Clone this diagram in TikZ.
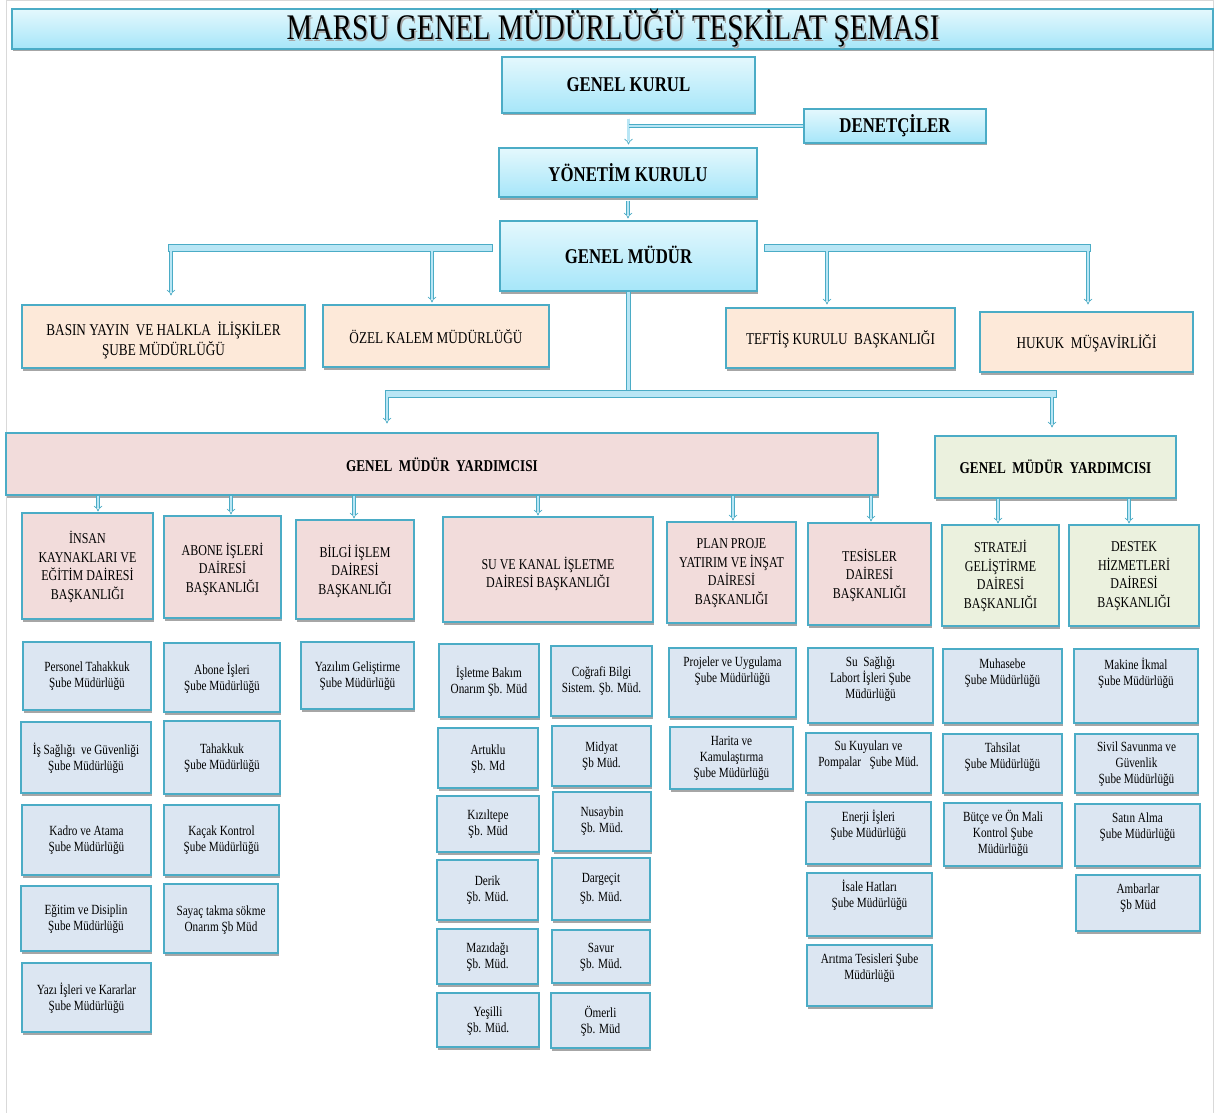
\documentclass[tikz,border=0pt]{standalone}
\usepackage{fontspec}
\newfontfamily\cf{Liberation Serif}[FakeStretch=0.8]
\usetikzlibrary{shadows,arrows.meta}
\definecolor{bord}{HTML}{4BACC6}
\definecolor{cyTop}{HTML}{E4F8FD}
\definecolor{cyBot}{HTML}{A6E6F9}
\definecolor{peach}{HTML}{FDE9D9}
\definecolor{pinkb}{HTML}{F2DCDB}
\definecolor{grn}{HTML}{EBF1DE}
\definecolor{lblue}{HTML}{DCE6F2}
\definecolor{connin}{HTML}{B9E6F5}
\tikzset{
 base/.style={draw=bord, line width=1.1pt, inner sep=0pt, drop shadow={shadow xshift=1pt, shadow yshift=-2.5pt, opacity=0.35, fill=black}},
 cyb/.style={base, top color=cyTop, bottom color=cyBot},
 pch/.style={base, fill=peach},
 pnk/.style={base, fill=pinkb},
 grb/.style={base, fill=grn},
 sbx/.style={base, fill=lblue},
 tTitle/.style={font=\cf\fontsize{36}{40}\selectfont, anchor=base, inner sep=0pt},
 tBig/.style={font=\cf\bfseries\fontsize{21}{24}\selectfont, anchor=base, inner sep=0pt},
 tOne/.style={font=\cf\fontsize{16.5}{20}\selectfont, anchor=base, inner sep=0pt},
 tTwo/.style={font=\cf\fontsize{16.5}{20}\selectfont, align=center, inner sep=0pt},
 tGmy/.style={font=\cf\bfseries\fontsize{16.5}{20}\selectfont, anchor=base, inner sep=0pt},
 tDep/.style={font=\cf\fontsize{15}{18.5}\selectfont, align=center, inner sep=0pt},
 tSm/.style={font=\cf\fontsize{14}{16}\selectfont, align=center, inner sep=0pt},
 conn/.style={draw=bord, line width=0.7pt, double=connin, double distance=2.2pt},
 arr/.style={conn, -{Implies}, shorten >=1pt},
 cbar/.style={draw=bord, line width=0.8pt, double=connin, double distance=3.6pt},
 barst/.style={draw=bord, line width=0.8pt, fill=connin},
}
% style, textstyle, name, x1, y1, x2, y2, text y, text
\newcommand\ob[9]{%
 \node[#1, minimum width={(#6-#4)*1pt}, minimum height={(#7-#5)*1pt}] (#3) at ({(#4+#6)/2},{(#5+#7)/2}) {};
 \node[#2] (#3t) at ({(#4+#6)/2},#8) {#9};}
\begin{document}
\begin{tikzpicture}[x=1pt,y=-1pt]
\useasboundingbox (0,0) rectangle (1215,1113);
\fill[white] (0,0) rectangle (1215,1113);
\draw[black!15, line width=1pt] (6,1113) -- (6,1) -- (1213,1) -- (1213,1113);

% title
\node[cyb, minimum width=1201pt, minimum height=40pt] (title) at (612.5,29) {};
\node[tTitle, text=black!35] (titles) at (614.5,41.8) {MARSU GENEL MÜDÜRLÜĞÜ TEŞKİLAT ŞEMASI};
\node[tTitle] (titlet) at (613,40) {MARSU GENEL MÜDÜRLÜĞÜ TEŞKİLAT ŞEMASI};

% top chain
\ob{cyb}{tBig}{gk}{502}{57}{755}{113}{92}{GENEL KURUL}
\ob{cyb}{tBig}{den}{804}{109}{986}{143}{132}{DENETÇİLER}
\ob{cyb}{tBig}{yk}{499}{148}{757}{197}{181}{YÖNETİM KURULU}
\ob{cyb}{tBig}{gm}{500}{221}{757}{291}{263}{GENEL MÜDÜR}

\draw[arr, shorten <=5pt, shorten >=3pt] (gk.south) -- (gk.south |- yk.north);
\draw[conn] (den.west) -- (den.west -| gk.south);
\draw[arr, shorten <=3pt, shorten >=2pt] (yk.south) -- (yk.south |- gm.north);

% staff units
\ob{pch}{tTwo}{basin}{22}{305}{305}{368}{340}{BASIN YAYIN~ VE HALKLA~ İLİŞKİLER\\ŞUBE MÜDÜRLÜĞÜ}
\ob{pch}{tOne}{ozel}{323}{305}{549}{367}{343}{ÖZEL KALEM MÜDÜRLÜĞÜ}
\ob{pch}{tOne}{teftis}{726}{308}{955}{368}{344}{TEFTİŞ KURULU~ BAŞKANLIĞI}
\ob{pch}{tOne}{hukuk}{980}{312}{1193}{372}{348}{HUKUK~ MÜŞAVİRLİĞİ}

\coordinate (lbl) at (168,244);
\coordinate (lbr) at (492,251);
\draw[barst] (lbl) rectangle (lbr);
\coordinate (la) at (171,251);
\coordinate (lb) at (432,251);
\draw[arr, shorten >=9pt] (la) -- (la |- basin.north);
\draw[arr, shorten >=2pt] (lb) -- (lb |- ozel.north);

\coordinate (rbl) at (764,244);
\coordinate (rbr) at (1090,251);
\draw[barst] (rbl) rectangle (rbr);
\coordinate (ra) at (827,251);
\coordinate (rb) at (1088,251);
\draw[arr, shorten >=3pt] (ra) -- (ra |- teftis.north);
\draw[arr, shorten >=7pt] (rb) -- (rb |- hukuk.north);

% deputies
\ob{pnk}{tGmy}{gmya}{6}{433}{878}{495}{471}{GENEL~ MÜDÜR~ YARDIMCISI}
\ob{grb}{tGmy}{gmyb}{935}{436}{1176}{498}{473}{GENEL~ MÜDÜR~ YARDIMCISI}

\coordinate (hbl) at (385,390);
\coordinate (hbr) at (1056,397);
\draw[cbar] (gm.south) -- (gm.south |- hbl);
\draw[barst] (hbl) rectangle (hbr);
\coordinate (ha) at (387,397);
\coordinate (hb) at (1052,397);
\draw[arr, shorten >=9pt] (ha) -- (ha |- gmya.north);
\draw[arr, shorten >=8pt] (hb) -- (hb |- gmyb.north);

% departments
\ob{pnk}{tDep}{ins}{22}{513}{153}{619}{567}{İNSAN\\KAYNAKLARI VE\\EĞİTİM DAİRESİ\\BAŞKANLIĞI}
\ob{pnk}{tDep}{abo}{164}{516}{281}{618}{569}{ABONE İŞLERİ\\DAİRESİ\\BAŞKANLIĞI}
\ob{pnk}{tDep}{bil}{296}{520}{414}{619}{571}{BİLGİ İŞLEM\\DAİRESİ\\BAŞKANLIĞI}
\ob{pnk}{tDep}{suk}{443}{517}{653}{622}{574}{SU VE KANAL İŞLETME\\DAİRESİ BAŞKANLIĞI}
\ob{pnk}{tDep}{pln}{667}{522}{796}{623}{573}{PLAN PROJE\\YATIRIM VE İNŞAT\\DAİRESİ\\BAŞKANLIĞI}
\ob{pnk}{tDep}{tes}{808}{523}{931}{625}{575}{TESİSLER\\DAİRESİ\\BAŞKANLIĞI}
\ob{grb}{tDep}{str}{942}{525}{1059}{626}{576}{STRATEJİ\\GELİŞTİRME\\DAİRESİ\\BAŞKANLIĞI}
\ob{grb}{tDep}{des}{1069}{525}{1199}{626}{576}{DESTEK\\HİZMETLERİ\\DAİRESİ\\BAŞKANLIĞI}

\foreach \xx/\dd in {98/ins,231/abo,354/bil,538/suk,733/pln,871/tes}{
  \coordinate (tmp) at (\xx,0);
  \draw[arr] (gmya.south -| tmp) -- (\dd.north -| tmp);
}
\foreach \xx/\dd in {998/str,1129/des}{
  \coordinate (tmp) at (\xx,0);
  \draw[arr] (gmyb.south -| tmp) -- (\dd.north -| tmp);
}

% branch offices
\ob{sbx}{tSm}{p1}{23}{642}{151}{710}{676}{Personel Tahakkuk\\Şube Müdürlüğü}
\ob{sbx}{tSm}{p2}{21}{722}{151}{793}{758}{İş Sağlığı~ ve Güvenliği\\Şube Müdürlüğü}
\ob{sbx}{tSm}{p3}{22}{805}{151}{875}{840}{Kadro ve Atama\\Şube Müdürlüğü}
\ob{sbx}{tSm}{p4}{21}{886}{151}{951}{919}{Eğitim ve Disiplin\\Şube Müdürlüğü}
\ob{sbx}{tSm}{p5}{22}{963}{151}{1032}{998}{Yazı İşleri ve Kararlar\\Şube Müdürlüğü}

\ob{sbx}{tSm}{a1}{164}{643}{280}{712}{678}{Abone İşleri\\Şube Müdürlüğü}
\ob{sbx}{tSm}{a2}{164}{721}{280}{794}{758}{Tahakkuk\\Şube Müdürlüğü}
\ob{sbx}{tSm}{a3}{164}{805}{279}{875}{840}{Kaçak Kontrol\\Şube Müdürlüğü}
\ob{sbx}{tSm}{a4}{164}{884}{278}{953}{920}{Sayaç takma sökme\\Onarım Şb Müd}

\ob{sbx}{tSm}{b1}{301}{642}{414}{709}{676}{Yazılım Geliştirme\\Şube Müdürlüğü}

\ob{sbx}{tSm}{s1}{439}{644}{539}{717}{681}{İşletme Bakım\\Onarım Şb. Müd}
\ob{sbx}{tSm}{s2}{551}{646}{652}{716}{681}{Coğrafi Bilgi\\Sistem. Şb. Müd.}
\ob{sbx}{tSm}{s3}{438}{728}{538}{788}{759}{Artuklu\\Şb. Md}
\ob{sbx}{tSm}{s4}{552}{726}{651}{786}{756}{Midyat\\Şb Müd.}
\ob{sbx}{tSm}{s5}{437}{796}{539}{852}{824}{Kızıltepe\\Şb. Müd}
\ob{sbx}{tSm}{s6}{553}{792}{651}{851}{821}{Nusaybin\\Şb. Müd.}
\ob{sbx}{tSm}{s7}{437}{860}{538}{920}{890}{Derik\\Şb. Müd.}
\ob{sbx}{tSm}{s8}{552}{858}{650}{920}{889}{Dargeçit\\[3pt]Şb. Müd.}
\ob{sbx}{tSm}{s9}{437}{929}{538}{984}{957}{Mazıdağı\\Şb. Müd.}
\ob{sbx}{tSm}{s10}{552}{930}{650}{983}{957}{Savur\\Şb. Müd.}
\ob{sbx}{tSm}{s11}{437}{993}{539}{1047}{1021}{Yeşilli\\Şb. Müd.}
\ob{sbx}{tSm}{s12}{551}{993}{650}{1048}{1021}{Ömerli\\Şb. Müd}

\ob{sbx}{tSm}{pp1}{669}{648}{796}{717}{671}{Projeler ve Uygulama\\Şube Müdürlüğü}
\ob{sbx}{tSm}{pp2}{670}{727}{793}{789}{758}{Harita ve\\Kamulaştırma\\Şube Müdürlüğü}

\ob{sbx}{tSm}{t1}{808}{648}{933}{723}{679}{Su~ Sağlığı\\Labort İşleri Şube\\Müdürlüğü}
\ob{sbx}{tSm}{t2}{806}{733}{931}{793}{755}{Su Kuyuları ve\\Pompalar~~ Şube Müd.}
\ob{sbx}{tSm}{t3}{806}{802}{931}{864}{825}{Enerji İşleri\\Şube Müdürlüğü}
\ob{sbx}{tSm}{t4}{807}{873}{932}{936}{895}{İsale Hatları\\Şube Müdürlüğü}
\ob{sbx}{tSm}{t5}{807}{945}{932}{1006}{968}{Arıtma Tesisleri Şube\\Müdürlüğü}

\ob{sbx}{tSm}{g1}{943}{649}{1062}{723}{673}{Muhasebe\\Şube Müdürlüğü}
\ob{sbx}{tSm}{g2}{943}{734}{1062}{793}{757}{Tahsilat\\Şube Müdürlüğü}
\ob{sbx}{tSm}{g3}{944}{803}{1062}{866}{833}{Bütçe ve Ön Mali\\Kontrol Şube\\Müdürlüğü}

\ob{sbx}{tSm}{d1}{1074}{649}{1198}{723}{673}{Makine İkmal\\Şube Müdürlüğü}
\ob{sbx}{tSm}{d2}{1075}{734}{1198}{793}{764}{Sivil Savunma ve\\Güvenlik\\Şube Müdürlüğü}
\ob{sbx}{tSm}{d3}{1075}{804}{1200}{866}{827}{Satın Alma\\Şube Müdürlüğü}
\ob{sbx}{tSm}{d4}{1076}{875}{1200}{931}{898}{Ambarlar\\Şb Müd}
\end{tikzpicture}
\end{document}
